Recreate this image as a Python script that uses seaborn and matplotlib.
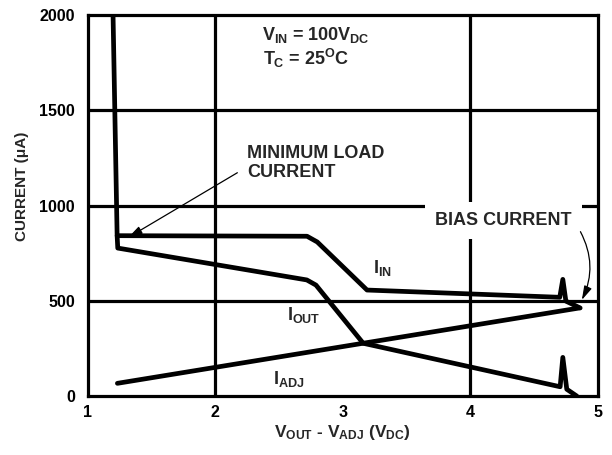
import numpy as np
import pandas as pd
import matplotlib
matplotlib.use("Agg")
import matplotlib.pyplot as plt
import seaborn as sns

# curve values (x in V, y in uA)
iin_x = [1.20, 1.232, 2.72, 2.80, 3.19, 4.70, 4.724, 4.748, 4.86]
iin_y = [2000, 843, 840, 810, 558, 520, 614, 500, 464]

iout_x = [1.232, 1.237, 2.718, 2.79, 3.16, 4.703, 4.724, 4.755, 4.834]
iout_y = [843, 778, 611, 584, 279, 51, 205, 38, 2]

iadj_x = [1.234, 4.854]
iadj_y = [69, 464]

x_ticks = [1, 2, 3, 4, 5]
y_ticks = [0, 500, 1000, 1500, 2000]
x_grid = [2, 4]
y_grid = [500, 1000, 1500]

sns.set_theme(style="white")
plt.rcParams["font.family"] = ["Liberation Sans", "DejaVu Sans"]
plt.rcParams["font.weight"] = "bold"
plt.rcParams["mathtext.fontset"] = "custom"
plt.rcParams["mathtext.rm"] = "Liberation Sans:bold"
plt.rcParams["mathtext.it"] = "Liberation Sans:bold"
plt.rcParams["mathtext.bf"] = "Liberation Sans:bold"
plt.rcParams["mathtext.sf"] = "Liberation Sans:bold"

fig = plt.figure(figsize=(6.12, 4.55), dpi=100)
ax = fig.add_axes([0.143, 0.1286, 0.8342, 0.8385])

# grid (only some lines in the original)
for gx in x_grid:
    ax.axvline(gx, color="black", lw=2.3, zorder=1)
for gy in y_grid:
    ax.axhline(gy, color="black", lw=2.3, zorder=1)

# curves
line_kw = dict(color="black", lw=3.4, sort=False, estimator=None,
               solid_joinstyle="round", zorder=4, ax=ax)
sns.lineplot(x=iin_x, y=iin_y, **line_kw)
sns.lineplot(x=iout_x, y=iout_y, **line_kw)
sns.lineplot(x=iadj_x, y=iadj_y, **line_kw)

ax.set_xlim(1, 5)
ax.set_ylim(0, 2000)
ax.set_xticks(x_ticks)
ax.set_yticks(y_ticks)
ax.tick_params(axis="both", length=0, labelsize=11.5, colors="black")
ax.tick_params(axis="x", pad=6)
ax.tick_params(axis="y", pad=9)
for lab in ax.get_xticklabels() + ax.get_yticklabels():
    lab.set_fontweight("bold")
for sp in ax.spines.values():
    sp.set_color("black")
    sp.set_linewidth(2.3)
    sp.set_zorder(5)

ax.set_xlabel("")
ax.set_ylabel("")
fig.text(0.56, 0.04, r"$V_{OUT}$ - $V_{ADJ}$ ($V_{DC}$)", ha="center",
         va="baseline", fontsize=12.5, fontweight="bold")
fig.text(0.036, 0.59, "CURRENT (\u03bcA)", rotation=90, ha="center",
         va="center", fontsize=11, fontweight="bold")

# conditions
txt = dict(fontsize=13, fontweight="bold", va="baseline", zorder=6)
ax.text(2.368, 1869, r"$V_{IN}$ = 100$V_{DC}$", **txt)
ax.text(2.375, 1738, r"$T_C$ = 25$^{O}$C", **txt)

# curve labels
ax.text(3.24, 646, r"$I_{IN}$", **txt)
ax.text(2.566, 401, r"$I_{OUT}$", **txt)
ax.text(2.456, 64, r"$I_{ADJ}$", **txt)

# annotations
ax.text(2.25, 1250, "MINIMUM LOAD", **txt)
ax.text(2.25, 1150, "CURRENT", **txt)
ax.annotate("", xy=(1.32, 834), xytext=(2.174, 1173),
            arrowprops=dict(arrowstyle="-|>,head_length=0.7,head_width=0.2",
                            color="black", lw=0.9, shrinkA=0, shrinkB=0),
            zorder=6)

ax.text(3.723, 899, "BIAS CURRENT",
        bbox=dict(boxstyle="square,pad=0.55", fc="white", ec="none"), **txt)
ax.annotate("", xy=(4.873, 506), xytext=(4.862, 864),
            arrowprops=dict(arrowstyle="-|>,head_length=0.7,head_width=0.2",
                            color="black", lw=0.9, shrinkA=0, shrinkB=0,
                            connectionstyle="arc3,rad=-0.25"),
            zorder=6)

fig.savefig("out.png", dpi=100)
